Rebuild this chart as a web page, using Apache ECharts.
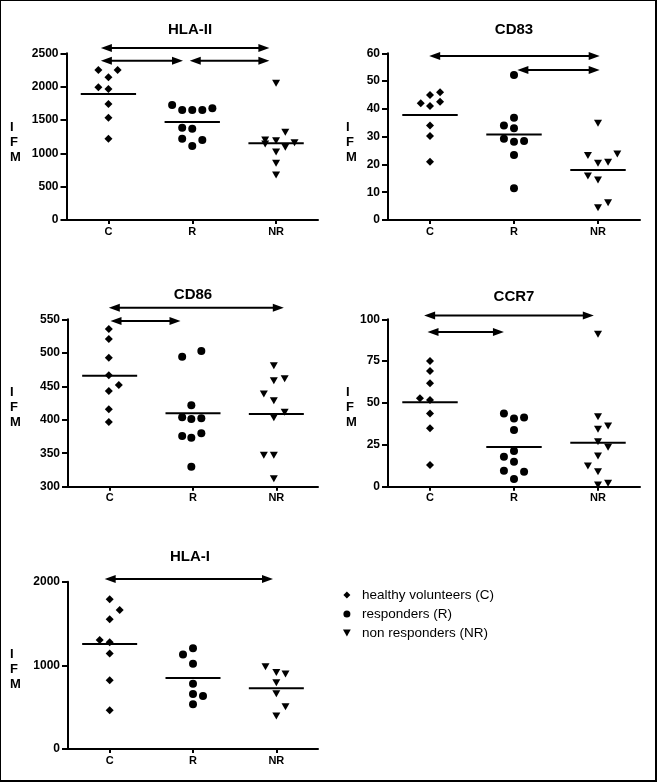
<!DOCTYPE html>
<html><head><meta charset="utf-8">
<script src="https://cdn.jsdelivr.net/npm/echarts@6/dist/echarts.min.js"></script>
<style>
html,body{margin:0;padding:0;background:#fff}
#wrap{position:relative;width:657px;height:782px}
#c{width:657px;height:782px}
#frame{position:absolute;left:0;top:0;width:657px;height:782px;box-sizing:border-box;border-style:solid;border-color:#000;border-width:1px 2px 2px 1px;pointer-events:none}
</style></head><body>
<div id="wrap"><div id="c"></div><div id="frame"></div></div>
<script>
const categories = ['C', 'R', 'NR'];
const groupNames = ['healthy volunteers (C)', 'responders (R)', 'non responders (NR)'];

// ---- HLA-II ----
const hlaII_C  = [2250, 2250, 2140, 1990, 1965, 1740, 1535, 1220];
const hlaII_R  = [1725, 1650, 1650, 1650, 1675, 1385, 1370, 1220, 1200, 1110];
const hlaII_NR = [2050, 1315, 1200, 1190, 1160, 1140, 1020, 1090, 850, 675];
const hlaII_jitter = [
  [-0.12, 0.11, 0, -0.12, 0, 0, 0, 0],
  [-0.24, -0.12, 0, 0.12, 0.24, -0.12, 0, -0.12, 0.12, 0],
  [0, 0.11, -0.13, 0, 0.22, -0.13, 0, 0.11, 0, 0]
];
const hlaII_means = [1890, 1470, 1150];
const hlaII_arrows = [[-0.09, 1.92, 2580], [-0.09, 0.89, 2390], [0.97, 1.92, 2390]];
const hlaII_axis = [0, 2500, 500];

// ---- CD83 ----
const cd83_C  = [42.0, 45.0, 46.0, 41.0, 42.6, 34.0, 30.2, 21.0];
const cd83_R  = [52.2, 36.8, 34.0, 33.0, 29.2, 28.2, 28.4, 23.4, 11.4];
const cd83_NR = [34.8, 23.2, 23.8, 20.4, 20.8, 15.8, 14.4, 4.4, 6.2];
const cd83_jitter = [
  [-0.11, 0, 0.12, 0, 0.12, 0, 0, 0],
  [0, 0, -0.12, 0, -0.12, 0, 0.12, 0, 0],
  [0, -0.12, 0.23, 0, 0.12, -0.12, 0, 0, 0.12]
];
const cd83_means = [37.8, 30.8, 18.0];
const cd83_arrows = [[-0.01, 2.02, 59.0], [1.04, 2.02, 54.0]];
const cd83_axis = [0, 60, 10];

// ---- CD86 ----
const cd86_C  = [535.6, 520.6, 492.7, 466.3, 451.9, 442.9, 415.5, 396.6];
const cd86_R  = [494.2, 502.7, 421.5, 403.6, 401.1, 402.1, 375.7, 373.2, 379.7, 329.9];
const cd86_NR = [480.8, 458.4, 461.4, 438.6, 428.5, 411.1, 403.1, 346.8, 346.8, 312.0];
const cd86_jitter = [
  [-0.01, -0.01, -0.01, -0.01, 0.11, -0.01, -0.01, -0.01],
  [-0.13, 0.1, -0.02, -0.13, -0.02, 0.1, -0.13, -0.02, 0.1, -0.02],
  [-0.03, -0.03, 0.1, -0.15, -0.03, 0.1, -0.03, -0.15, -0.03, -0.03]
];
const cd86_means = [465.8, 409.6, 408.6];
const cd86_arrows = [[-0.01, 2.09, 567.4], [0.01, 0.85, 547.5]];
const cd86_axis = [300, 550, 50];

// ---- CCR7 ----
const ccr7_C  = [75.1, 69.1, 61.8, 52.8, 51.8, 43.8, 34.9, 12.9];
const ccr7_R  = [43.8, 40.8, 41.4, 33.9, 21.3, 17.9, 14.9, 9.6, 9.0, 4.6];
const ccr7_NR = [91.0, 41.8, 34.3, 36.3, 26.9, 23.5, 18.3, 12.4, 9.0, 1.0, 2.0];
const ccr7_jitter = [
  [0, 0, 0, -0.12, 0, 0, 0, 0],
  [-0.12, 0, 0.12, 0, 0, -0.12, 0, -0.12, 0.12, 0],
  [0, 0, 0, 0.12, 0, 0.12, 0, -0.12, 0, 0, 0.12]
];
const ccr7_means = [50.4, 23.7, 26.3];
const ccr7_arrows = [[-0.07, 1.95, 102.2], [-0.03, 0.88, 92.4]];
const ccr7_axis = [0, 100, 25];

// ---- HLA-I ----
const hlaI_C  = [1789, 1661, 1550, 1303, 1275, 1143, 821, 462];
const hlaI_R  = [1131, 1203, 1020, 781, 657, 633, 534];
const hlaI_NR = [984, 916, 896, 793, 661, 506, 394];
const hlaI_jitter = [
  [0, 0.12, 0, -0.12, 0, 0, 0, 0],
  [-0.12, 0, 0, 0, 0, 0.12, 0],
  [-0.13, 0, 0.11, 0, 0, 0.11, 0]
];
const hlaI_means = [1255, 849, 725];
const hlaI_arrows = [[-0.06, 1.96, 2032]];
const hlaI_axis = [0, 2000, 1000];

const FONT = '"Liberation Sans", Arial, sans-serif';
const TRI = 'path://M0,0L10,0L5,9Z';
const DIA = 'path://M5,0L10,5L5,10L0,5Z';
const symbols = ['diamond', 'circle', TRI];
const symbolSizes = [8, 8, [8, 7]];

const panels = [
  { title: 'HLA-II', values: [hlaII_C, hlaII_R, hlaII_NR], jitter: hlaII_jitter, means: hlaII_means, arrows: hlaII_arrows, axis: hlaII_axis,
    grid: { left: 66.5, top: 53.3, width: 251.5, height: 166.7 }, titleXY: [190, 29.5], ifmXY: [10, 142] },
  { title: 'CD83', values: [cd83_C, cd83_R, cd83_NR], jitter: cd83_jitter, means: cd83_means, arrows: cd83_arrows, axis: cd83_axis,
    grid: { left: 388, top: 53.3, width: 252, height: 166.7 }, titleXY: [514, 29.5], ifmXY: [346, 142] },
  { title: 'CD86', values: [cd86_C, cd86_R, cd86_NR], jitter: cd86_jitter, means: cd86_means, arrows: cd86_arrows, axis: cd86_axis,
    grid: { left: 68, top: 319.3, width: 250, height: 167.4 }, titleXY: [193, 294.5], ifmXY: [10, 407] },
  { title: 'CCR7', values: [ccr7_C, ccr7_R, ccr7_NR], jitter: ccr7_jitter, means: ccr7_means, arrows: ccr7_arrows, axis: ccr7_axis,
    grid: { left: 388, top: 319.3, width: 252, height: 167.4 }, titleXY: [514, 297], ifmXY: [346, 407] },
  { title: 'HLA-I', values: [hlaI_C, hlaI_R, hlaI_NR], jitter: hlaI_jitter, means: hlaI_means, arrows: hlaI_arrows, axis: hlaI_axis,
    grid: { left: 68, top: 581.7, width: 250, height: 167.3 }, titleXY: [190, 557], ifmXY: [10, 669] }
];

function meanRender(params, api) {
  const x = api.value(0), y = api.value(1);
  const a = api.coord([x - 0.33, y]), b = api.coord([x + 0.33, y]);
  return { type: 'line', shape: { x1: a[0], y1: a[1], x2: b[0], y2: b[1] }, style: { stroke: '#000', lineWidth: 2 } };
}
function arrowRender(params, api) {
  const a = api.coord([api.value(0), api.value(2)]);
  const b = api.coord([api.value(1), api.value(2)]);
  const y = a[1], L = 11, H = 4;
  return { type: 'group', children: [
    { type: 'line', shape: { x1: a[0] + L - 1, y1: y, x2: b[0] - L + 1, y2: y }, style: { stroke: '#000', lineWidth: 2 } },
    { type: 'polygon', shape: { points: [[a[0], y], [a[0] + L, y - H], [a[0] + L, y + H]] }, style: { fill: '#000' } },
    { type: 'polygon', shape: { points: [[b[0], y], [b[0] - L, y - H], [b[0] - L, y + H]] }, style: { fill: '#000' } }
  ] };
}

const grid = [], xAxis = [], yAxis = [], series = [], graphic = [];
panels.forEach((p, k) => {
  grid.push(Object.assign({ containLabel: false }, p.grid));
  xAxis.push({
    type: 'category', gridIndex: k, data: categories, boundaryGap: true,
    axisLine: { show: true, onZero: false, lineStyle: { color: '#000', width: 2 } },
    axisTick: { show: true, alignWithLabel: true, length: 4, lineStyle: { color: '#000', width: 2 } },
    axisLabel: { color: '#000', fontWeight: 'bold', fontSize: 11, fontFamily: FONT, margin: 6 },
    splitLine: { show: false }
  });
  xAxis.push({ type: 'value', gridIndex: k, min: -0.5, max: 2.5, show: false, splitLine: { show: false } });
  yAxis.push({
    type: 'value', gridIndex: k, min: p.axis[0], max: p.axis[1], interval: p.axis[2],
    axisLine: { show: true, onZero: false, lineStyle: { color: '#000', width: 2 } },
    axisTick: { show: true, length: 6, lineStyle: { color: '#000', width: 2 } },
    axisLabel: { color: '#000', fontWeight: 'bold', fontSize: 12, fontFamily: FONT, margin: 8, formatter: v => String(v) },
    splitLine: { show: false }
  });
  p.values.forEach((vals, i) => {
    series.push({
      type: 'scatter', name: groupNames[i], xAxisIndex: 2 * k + 1, yAxisIndex: k,
      symbol: symbols[i], symbolSize: symbolSizes[i],
      itemStyle: { color: '#000', opacity: 1 },
      data: vals.map((v, j) => [i + p.jitter[i][j], v]),
      silent: true, z: 3
    });
  });
  series.push({
    type: 'custom', xAxisIndex: 2 * k + 1, yAxisIndex: k, renderItem: meanRender, clip: false,
    encode: { x: 0, y: 1 }, data: p.means.map((m, i) => [i, m]), silent: true, z: 2
  });
  series.push({
    type: 'custom', xAxisIndex: 2 * k + 1, yAxisIndex: k, renderItem: arrowRender, clip: false,
    encode: { x: [0, 1], y: 2 }, data: p.arrows, silent: true, z: 2
  });
  graphic.push({ type: 'text', x: p.titleXY[0], y: p.titleXY[1],
    style: { text: p.title, fill: '#000', fontSize: 15, fontWeight: 'bold', fontFamily: FONT, align: 'center', verticalAlign: 'middle' } });
  graphic.push({ type: 'text', x: p.ifmXY[0], y: p.ifmXY[1],
    style: { text: 'I\nF\nM', fill: '#000', fontSize: 13, fontWeight: 'bold', fontFamily: FONT, lineHeight: 15, align: 'left', verticalAlign: 'middle' } });
});

const chart = echarts.init(document.getElementById('c'), null, { renderer: 'canvas' });
chart.setOption({
  animation: false,
  backgroundColor: '#fff',
  grid, xAxis, yAxis, series, graphic,
  legend: {
    orient: 'vertical', left: 343, top: 588, itemWidth: 8, itemHeight: 7, itemGap: 5, padding: 0,
    selectedMode: false,
    textStyle: { color: '#000', fontSize: 13.5, fontFamily: FONT, lineHeight: 14, padding: [0, 0, 0, 6] },
    data: [
      { name: groupNames[0], icon: DIA },
      { name: groupNames[1], icon: 'circle' },
      { name: groupNames[2], icon: TRI }
    ]
  }
});
</script>
</body></html>
